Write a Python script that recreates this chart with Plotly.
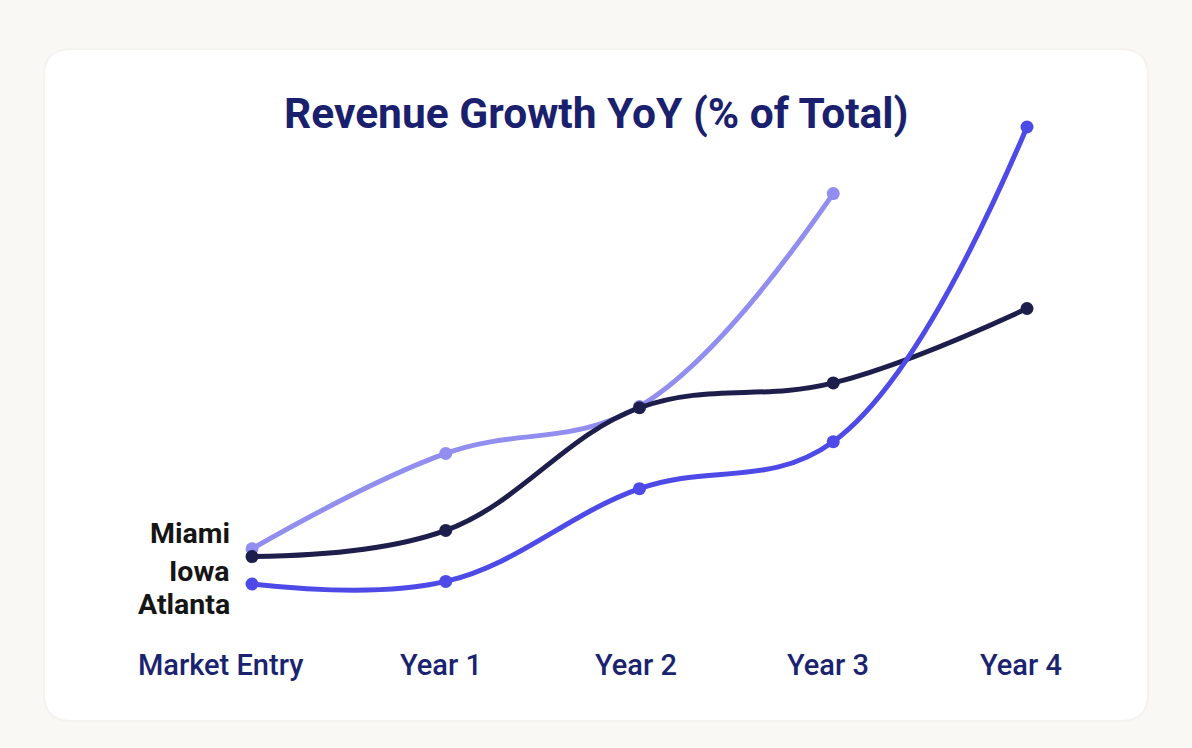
import plotly.graph_objects as go

categories = ["Market Entry", "Year 1", "Year 2", "Year 3", "Year 4"]
miami = [7.7, 15.0, 18.6, 34.9, None]
iowa = [7.1, 9.1, 18.5, 20.4, 26.1]
atlanta = [5.0, 5.2, 12.3, 15.9, 40.0]

series = [
    ("Miami", miami, "#918eef"),
    ("Iowa", iowa, "#1d1e4c"),
    ("Atlanta", atlanta, "#4d4ae8"),
]

W, H = 1192, 748
ML, MR, MT, MB = 200, 100, 100, 100
PW, PH = W - ML - MR, H - MT - MB

def px(x):
    return (x - ML) / PW

def py(y):
    return (H - MB - y) / PH

fig = go.Figure()
for name, vals, col in series:
    fig.add_trace(go.Scatter(
        x=list(range(len(categories))), y=vals, name=name, mode="lines+markers",
        line=dict(color=col, width=5, shape="spline", smoothing=1.1),
        marker=dict(color=col, size=13), cliponaxis=False, showlegend=False,
        connectgaps=False,
    ))

def rounded(x0, y0, x1, y1, r):
    X0, X1 = px(x0), px(x1)
    Y0, Y1 = py(y0), py(y1)
    rx, ry = r / PW, r / PH
    return (f"M {X0+rx},{Y0} L {X1-rx},{Y0} Q {X1},{Y0} {X1},{Y0-ry} "
            f"L {X1},{Y1+ry} Q {X1},{Y1} {X1-rx},{Y1} L {X0+rx},{Y1} "
            f"Q {X0},{Y1} {X0},{Y1+ry} L {X0},{Y0-ry} Q {X0},{Y0} {X0+rx},{Y0} Z")

shapes = [
    dict(type="path", xref="paper", yref="paper", path=rounded(43, 48, 1149, 722, 28),
         fillcolor="#f4f3ef", line=dict(width=0), layer="below"),
    dict(type="path", xref="paper", yref="paper", path=rounded(45, 50, 1147, 720, 26),
         fillcolor="#ffffff", line=dict(width=0), layer="below"),
]

annotations = [
    dict(text="Revenue Growth YoY (% of Total)", x=px(596), y=py(113), xref="paper", yref="paper",
         showarrow=False, xanchor="center", yanchor="middle",
         font=dict(family="Roboto", size=42.5, color="#1a1f6e", weight=700)),
]
label_y = [533, 571, 604]
for (name, _, _), ly in zip(series, label_y):
    annotations.append(dict(text=name, x=px(232), y=py(ly), xref="paper", yref="paper",
                            showarrow=False, xanchor="right", yanchor="middle",
                            font=dict(family="Roboto", size=28.5, color="#151515", weight=700)))
shifts = [-31, -5, -4, -5, -6]
for i, (c, s) in enumerate(zip(categories, shifts)):
    annotations.append(dict(text=c, x=i, y=py(665), xref="x", yref="paper", xshift=s,
                            showarrow=False, xanchor="center", yanchor="middle",
                            font=dict(family="Roboto", size=29, color="#1a2370", weight=500)))

k = 13.057
fig.update_layout(
    width=W, height=H, margin=dict(l=ML, r=MR, t=MT, b=MB),
    paper_bgcolor="#f9f8f4", plot_bgcolor="rgba(0,0,0,0)",
    xaxis=dict(range=[-(252 - ML) / 193.75, 4 + (ML + PW - 1027) / 193.75], showgrid=False,
               zeroline=False, showticklabels=False, showline=False),
    yaxis=dict(range=[5 - (H - MB - 584) / k, 5 + (584 - MT) / k], showgrid=False,
               zeroline=False, showticklabels=False, showline=False),
    shapes=shapes, annotations=annotations,
)
fig.write_html("out.html")
